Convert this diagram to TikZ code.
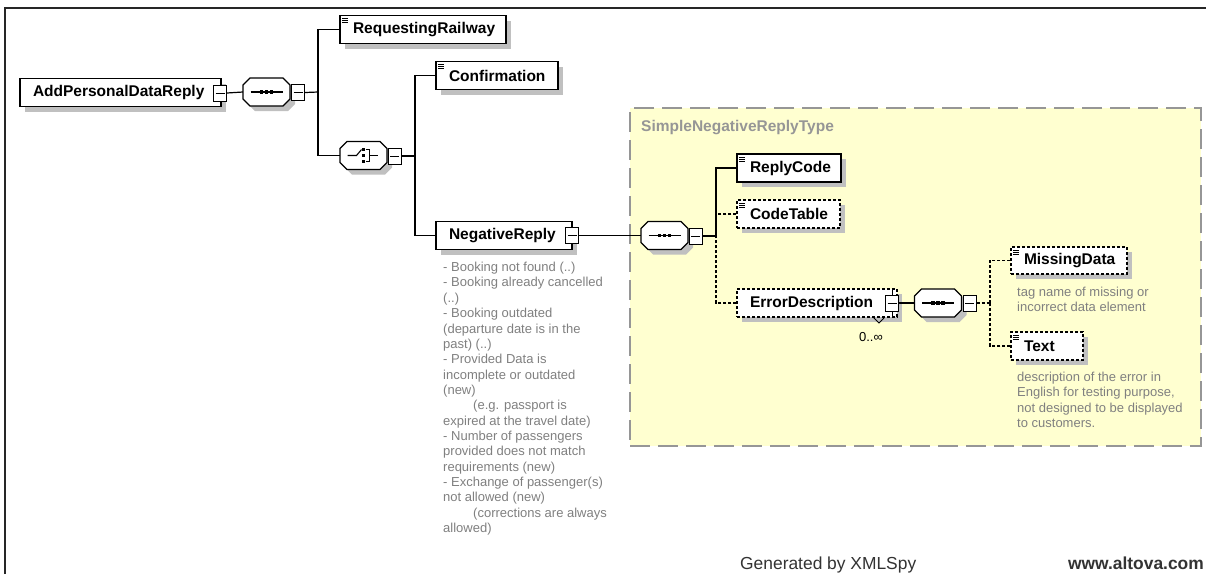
\documentclass[tikz,border=0pt]{standalone}
\usepackage{fontspec}
\setmainfont{Liberation Sans}
\usetikzlibrary{shadows}
\definecolor{shadowgray}{RGB}{192,192,192}
\definecolor{typefill}{RGB}{255,255,208}
\definecolor{typeedge}{RGB}{150,150,150}
\definecolor{notegray}{RGB}{128,128,128}
\newcommand\boxtext[2]{\makebox[#1][l]{#2}}
% octagonal compositor outline, with its shadow, around a named node
\newcommand\octoutline[1]{%
  \begin{scope}[shift={(#1.center)}]
    \fill[shadowgray] (-18.5,-2) -- (-11.5,-9) -- (21.5,-9) -- (28.5,-2) -- (28.5,12)
      -- (21.5,19) -- (-11.5,19) -- (-18.5,12) -- cycle;
    \filldraw[fill=white, line width=1.2pt] (-23.5,-7) -- (-16.5,-14) -- (16.5,-14)
      -- (23.5,-7) -- (23.5,7) -- (16.5,14) -- (-16.5,14) -- (-23.5,7) -- cycle;
  \end{scope}}
% sequence compositor: a line with three dots
\newcommand\seqicon[1]{%
  \octoutline{#1}%
  \begin{scope}[shift={(#1.center)}]
    \draw[line width=1.2pt] (-16,0) -- (16,0);
    \foreach \d in {-5,0,5} \fill (\d-1.8,-1.8) rectangle (\d+1.8,1.8);
  \end{scope}}
% choice compositor: a switch in front of three stacked dots
\newcommand\choiceicon[1]{%
  \octoutline{#1}%
  \begin{scope}[shift={(#1.center)}, line width=1.1pt]
    \draw (-16,0) -- (-7,0) -- (-2,-6);
    \foreach \d in {-6,0,6} \fill (-1.9,\d-1.9) rectangle (1.9,\d+1.9);
    \draw (2,-6) -- (6,-6) -- (6,6) -- (2,6);
    \draw (6,0) -- (14,0);
  \end{scope}}
% simple-content mark in the top left corner of an element box
\newcommand\simpleicon[1]{%
  \begin{scope}[shift={(#1.north west)}]
    \foreach \yy in {3.5,5.5,7.5} \draw[line width=0.8pt] (3,\yy) -- (9,\yy);
  \end{scope}}

\begin{document}
\begin{tikzpicture}[x=1pt,y=-1pt,
  every node/.style={inner sep=0pt},
  shadowed/.style={general shadow={fill=shadowgray, shadow xshift=5pt, shadow yshift=-5pt}},
  elem/.style={shadowed, draw, fill=white, line width=1.2pt, minimum height=28pt,
    inner xsep=13pt, font=\fontsize{15.5}{18}\selectfont\bfseries},
  optelem/.style={elem, dash pattern=on 3pt off 2pt},
  octa/.style={rectangle, minimum width=47pt, minimum height=28pt},
  minus/.style={draw, fill=white, line width=1pt, minimum width=13pt, minimum height=16pt,
    path picture={\draw[line width=1pt] ([xshift=2pt]path picture bounding box.west)
      -- ([xshift=-2pt]path picture bounding box.east);}},
  wire/.style={line width=1.2pt},
  optwire/.style={wire, dash pattern=on 3pt off 2pt},
  note/.style={anchor=north west, align=left, text=notegray, font=\fontsize{13}{15.35}\selectfont},
]
\useasboundingbox (0,0) rectangle (1206,574);
\fill[white] (0,0) rectangle (1206,574);
% page frame
\draw[line width=1.5pt, black!85] (5,574) -- (5,8) -- (1206,8);

% complex type area
\node[draw=typeedge, fill=typefill, line width=1.5pt, dash pattern=on 20pt off 8pt,
  minimum width=571pt, minimum height=338pt] (stype) at (915.5,277) {};
\node[anchor=west, text=typeedge, font=\fontsize{15.5}{18}\selectfont\bfseries]
  (stname) at (641,128) {SimpleNegativeReplyType};

% root element and its sequence
\node[elem] (root) at (120.5,92.5) {\boxtext{175pt}{AddPersonalDataReply}};
\node[minus] (m1) at (220,93) {};
\node[octa] (s1) at (266.5,92) {};
\seqicon{s1}
\node[minus] (m2) at (298,92.5) {};

\node[elem] (req) at (423,29.5) {\boxtext{140pt}{RequestingRailway}};
\simpleicon{req}

% choice
\node[octa] (ch) at (363.5,155.5) {};
\choiceicon{ch}
\node[minus] (m3) at (394.5,156) {};

\node[elem] (conf) at (497,75.5) {\boxtext{96pt}{Confirmation}};
\simpleicon{conf}
\node[elem] (neg) at (504,235.5) {\boxtext{110pt}{NegativeReply}};
\node[minus] (m4) at (572,235.5) {};

\node[note] (negnote) at (443,262) {- Booking not found (..)\\
- Booking already cancelled\\
(..)\\
- Booking outdated\\
(departure date is in the\\
past) (..)\\
- Provided Data is\\
incomplete or outdated\\
(new)\\
\hspace*{30pt}(e.g. passport is\\
expired at the travel date)\\
- Number of passengers\\
provided does not match\\
requirements (new)\\
- Exchange of passenger(s)\\
not allowed (new)\\
\hspace*{30pt}(corrections are always\\
allowed)};

% content of SimpleNegativeReplyType
\node[octa] (s2) at (664.5,235.5) {};
\seqicon{s2}
\node[minus] (m5) at (695.5,236) {};

\node[elem] (rc) at (789,168) {\boxtext{78pt}{ReplyCode}};
\simpleicon{rc}
\node[optelem] (ct) at (788.5,214) {\boxtext{77pt}{CodeTable}};
\simpleicon{ct}
\node[optelem] (ed) at (817,303) {\boxtext{134pt}{ErrorDescription}};
\node[minus] (m6) at (892,303) {};
\draw[line width=1pt] (m6.north) -- ++(0,-6);
\draw[line width=1pt] (m6.south) -- ++(0,6);
\draw[line width=0.8pt] (873,317) -- (879,323) -- (884,318);
\node[font=\fontsize{13}{15}\selectfont] (occ) at (871,337) {0..∞};

\node[octa] (s3) at (938,303) {};
\seqicon{s3}
\node[minus] (m7) at (969.5,303) {};

\node[optelem, minimum height=27pt] (md) at (1069,260.5) {\boxtext{90pt}{MissingData}};
\simpleicon{md}
\node[note] (mdnote) at (1017,287) {tag name of missing or\\incorrect data element};

\node[optelem] (tx) at (1047,346) {\boxtext{46pt}{Text}};
\simpleicon{tx}
\node[note] (txnote) at (1017,372) {description of the error in\\
English for testing purpose,\\
not designed to be displayed\\
to customers.};

% connectors
\coordinate (j1) at (318,92);
\coordinate (j2) at (415,156);
\coordinate (j3) at (716,236);
\coordinate (j4) at (990,303);
\draw[wire] (m1.east) -- (s1.west);
\draw[wire] (m2.east) -- (j1);
\draw[wire] (req.west) -| (j1);
\draw[wire] (ch.west) -| (j1);
\draw[wire] (m3.east) -- (j2);
\draw[wire] (conf.west) -| (j2);
\draw[wire] (neg.west) -| (j2);
\draw[wire] (m4.east) -- (s2.west);
\draw[wire] (m5.east) -- (j3);
\draw[wire] (rc.west) -| (j3);
\draw[optwire] (ct.west) -- (ct.west -| j3);
\draw[optwire] (ed.west) -| (j3);
\draw[wire] (m6.east) -- (s3.west);
\draw[optwire] (m7.east) -- (j4);
\draw[optwire] (md.west) -| (j4);
\draw[optwire] (tx.west) -| (j4);

% footer
\node[anchor=base west, text=black!80, font=\fontsize{17.4}{20}\selectfont]
  (gen) at (740,569.5) {Generated by XMLSpy};
\node[anchor=base east, text=black!80, font=\fontsize{17.4}{20}\selectfont\bfseries]
  (web) at (1204,569.5) {www.altova.com};
\end{tikzpicture}
\end{document}
